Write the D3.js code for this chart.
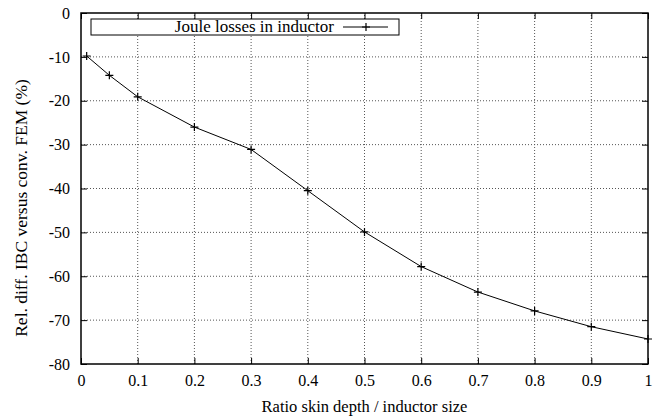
<!DOCTYPE html>
<html>
<head>
<meta charset="utf-8">
<script src="https://cdn.jsdelivr.net/npm/d3@7"></script>
<style>
  body { margin: 0; background: #fff; }
</style>
</head>
<body>
<div id="chart"></div>
<script>
// data
var ratio  = [0.01, 0.05, 0.1, 0.2, 0.3, 0.4, 0.5, 0.6, 0.7, 0.8, 0.9, 1.0];
var relDiff = [-9.8, -14.2, -19.1, -26.0, -31.1, -40.5, -49.9, -57.8, -63.6, -67.9, -71.5, -74.3];
var xTicks = [0, 0.1, 0.2, 0.3, 0.4, 0.5, 0.6, 0.7, 0.8, 0.9, 1];
var yTicks = [0, -10, -20, -30, -40, -50, -60, -70, -80];
var xTickLabels = ["0", "0.1", "0.2", "0.3", "0.4", "0.5", "0.6", "0.7", "0.8", "0.9", "1"];
var yTickLabels = ["0", "-10", "-20", "-30", "-40", "-50", "-60", "-70", "-80"];
var seriesName = "Joule losses in inductor";

var FONT = "'Liberation Serif'";
var W = 659, H = 418;
var m = {left: 81, right: 11, top: 13, bottom: 54};

var svg = d3.select("#chart").append("svg")
  .attr("width", W).attr("height", H);

var x = d3.scaleLinear().domain([0, 1]).range([m.left, W - m.right]);
var y = d3.scaleLinear().domain([-80, 0]).range([H - m.bottom, m.top]);

// grid
var grid = svg.append("g").attr("class", "grid");
grid.selectAll(".vg").data(xTicks.slice(1, -1)).enter().append("line")
  .attr("x1", function(d){ return x(d) }).attr("x2", function(d){ return x(d) })
  .attr("y1", y(-80)).attr("y2", y(0))
  .attr("stroke", "#555").attr("stroke-width", 1).attr("stroke-dasharray", "1,2");
grid.selectAll(".hg").data(yTicks.slice(1, -1)).enter().append("line")
  .attr("y1", function(d){ return y(d) }).attr("y2", function(d){ return y(d) })
  .attr("x1", x(0)).attr("x2", x(1))
  .attr("stroke", "#555").attr("stroke-width", 1).attr("stroke-dasharray", "1,2");

// axes, ticks pointing inward on all sides
var tk = 6;
var xb = svg.append("g").attr("transform", "translate(0," + y(-80) + ")")
  .call(d3.axisBottom(x).tickValues(xTicks).tickFormat(function(d, i){ return xTickLabels[i] })
    .tickSizeInner(-tk).tickSizeOuter(0).tickPadding(11));
var xt = svg.append("g").attr("transform", "translate(0," + y(0) + ")")
  .call(d3.axisTop(x).tickValues(xTicks).tickFormat("").tickSizeInner(-tk).tickSizeOuter(0));
var yl = svg.append("g").attr("transform", "translate(" + x(0) + ",0)")
  .call(d3.axisLeft(y).tickValues(yTicks).tickFormat(function(d, i){ return yTickLabels[i] })
    .tickSizeInner(-tk).tickSizeOuter(0).tickPadding(11));
var yr = svg.append("g").attr("transform", "translate(" + x(1) + ",0)")
  .call(d3.axisRight(y).tickValues(yTicks).tickFormat("").tickSizeInner(-tk).tickSizeOuter(0));

[xb, xt, yl, yr].forEach(function(g){
  g.attr("font-family", null).attr("font-size", null);
  g.selectAll("path").remove();
  g.selectAll("line").attr("stroke", "#000");
  g.selectAll("text").style("font-size", "16px").style("font-family", FONT).attr("fill", "#000");
});

svg.append("rect")
  .attr("x", x(0)).attr("y", y(0))
  .attr("width", x(1) - x(0)).attr("height", y(-80) - y(0))
  .attr("fill", "none").attr("stroke", "#000").attr("stroke-width", 1.5);

// series
var line = d3.line().x(function(d, i){ return x(ratio[i]) }).y(function(d){ return y(d) });
svg.append("path").datum(relDiff)
  .attr("d", line).attr("fill", "none").attr("stroke", "#000").attr("stroke-width", 1);

var ms = 4;
svg.append("g").selectAll(".pt").data(relDiff).enter().append("path")
  .attr("d", function(d, i){
    var cx = x(ratio[i]), cy = y(d);
    return "M" + (cx - ms) + "," + cy + "H" + (cx + ms) + "M" + cx + "," + (cy - ms) + "V" + (cy + ms);
  })
  .attr("stroke", "#000").attr("stroke-width", 1.2);

// legend
var lg = svg.append("g");
lg.append("rect").attr("x", 91).attr("y", 19).attr("width", 308).attr("height", 16)
  .attr("fill", "#fff").attr("stroke", "#000").attr("stroke-width", 1);
lg.append("text").attr("x", 334).attr("y", 32).attr("text-anchor", "end")
  .style("font-size", "17px").style("font-family", FONT).text(seriesName);
lg.append("line").attr("x1", 343).attr("x2", 388).attr("y1", 27).attr("y2", 27)
  .attr("stroke", "#000");
lg.append("path").attr("d", "M" + (366 - ms) + ",27H" + (366 + ms) + "M366," + (27 - ms) + "V" + (27 + ms))
  .attr("stroke", "#000").attr("stroke-width", 1.2);

// axis titles
svg.append("text").attr("x", (x(0) + x(1)) / 2).attr("y", 412)
  .attr("text-anchor", "middle").style("font-size", "16.5px").style("font-family", FONT)
  .text("Ratio skin depth / inductor size");
svg.append("text")
  .attr("transform", "translate(27,208) rotate(-90)")
  .attr("text-anchor", "middle").style("font-size", "17.5px").style("font-family", FONT)
  .text("Rel. diff. IBC versus conv. FEM (%)");
</script>
</body>
</html>
